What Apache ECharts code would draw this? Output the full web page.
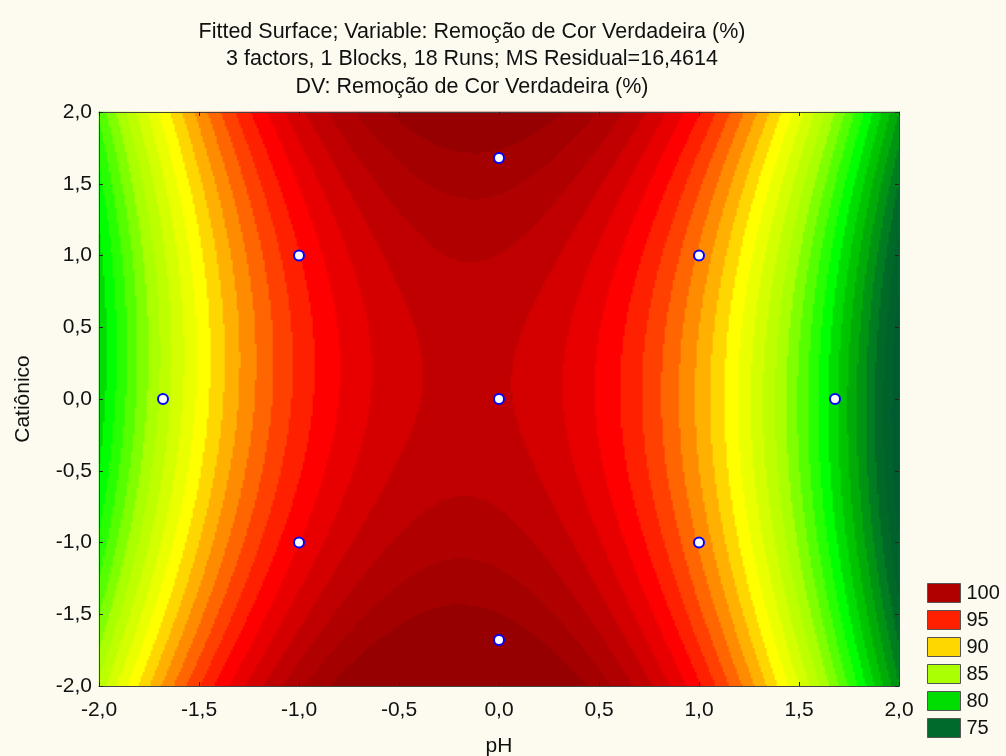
<!DOCTYPE html>
<html>
<head>
<meta charset="utf-8">
<script src="https://cdn.jsdelivr.net/npm/echarts@6/dist/echarts.min.js"></script>
<style>
html, body { margin: 0; padding: 0; background: #fdfaf0; }
#chart { width: 1006px; height: 756px; }
</style>
</head>
<body>
<div id="chart"></div>
<script>
// fitted quadratic surface: const, pH, Cat, pH^2, Cat^2, pH*Cat
const modelTerms = ['const', 'pH', 'Cat', 'pH2', 'Cat2', 'pHCat'];
const modelCoefs = [99.15, -1.79, -0.27, -5.6, 1.1, 0.25];

// experimental runs (coded levels)
const runsPH  = [-1, 1, -1, 1, -1.68, 1.68, 0, 0, 0];
const runsCat = [-1, -1, 1, 1, 0, 0, -1.68, 1.68, 0];

const axisMin = -2, axisMax = 2, tickStep = 0.5;

// contour bands, 1 unit each
const bandFrom = [73, 74, 75, 76, 77, 78, 79, 80, 81, 82, 83, 84, 85, 86, 87, 88, 89,
                  90, 91, 92, 93, 94, 95, 96, 97, 98, 99, 100, 101, 102];
const bandColors = ['#005c30', '#00622e', '#006a2a', '#007e20', '#009414', '#00ac08', '#00c400',
                    '#00dd00', '#00ff00', '#2aff00', '#55ff00', '#80ff00', '#aaff00', '#bfff00',
                    '#d4ff00', '#eaff00', '#ffff00', '#ffd700', '#ffb000', '#ff8c00', '#ff6600',
                    '#ff4000', '#ff2000', '#ff0000', '#e80000', '#d40000', '#c00000', '#b00000',
                    '#a40000', '#960000'];

const legendLabels = ['100', '95', '90', '85', '80', '75'];
const legendColors = ['#b00000', '#ff2000', '#ffd700', '#aaff00', '#00dd00', '#006a2a'];

const nx = 400, ny = 287;

function fitted(x, y) {
    const c = modelCoefs;
    return c[0] + c[1] * x + c[2] * y + c[3] * x * x + c[4] * y * y + c[5] * x * y;
}

let xCats = [], yCats = [], cells = [];
for (let i = 0; i < nx; i++) xCats.push(axisMin + (i + 0.5) * (axisMax - axisMin) / nx);
for (let j = 0; j < ny; j++) yCats.push(axisMin + (j + 0.5) * (axisMax - axisMin) / ny);
for (let i = 0; i < nx; i++) {
    for (let j = 0; j < ny; j++) {
        cells.push([i, j, fitted(xCats[i], yCats[j])]);
    }
}

let pieces = bandFrom.map((v, k) => {
    let p = { gte: v, color: bandColors[k] };
    if (k < bandFrom.length - 1) p.lt = bandFrom[k + 1];
    return p;
});
pieces.push({ lt: bandFrom[0], color: bandColors[0] });

const fmt = v => v.toFixed(1).replace('.', ',');
const font = 'Liberation Sans, Arial, sans-serif';
const gridBox = { left: 99, top: 112, width: 800, height: 574, outerBoundsMode: 'none', containLabel: false };

let myChart = echarts.init(document.getElementById('chart'));

let valueAxis = (pos, showLabel) => ({
    type: 'value', gridIndex: 1, position: pos,
    min: axisMin, max: axisMax, interval: tickStep, z: 5,
    axisLine: { show: true, onZero: false, lineStyle: { color: '#444', width: 1 } },
    axisTick: { show: true, inside: true, length: 4, lineStyle: { color: '#222' } },
    axisLabel: { show: showLabel, formatter: fmt, fontSize: 21, color: '#111', fontFamily: font, margin: 7 },
    splitLine: { show: false }
});

let xMain = valueAxis('bottom', true);
xMain.axisLabel.margin = 14;
xMain.name = 'pH';
xMain.nameLocation = 'middle';
xMain.nameGap = 50;
xMain.nameTextStyle = { fontSize: 21, color: '#111', fontFamily: font };
let yMain = valueAxis('left', true);
yMain.name = 'Catiônico';
yMain.nameLocation = 'middle';
yMain.nameGap = 65;
yMain.nameTextStyle = { fontSize: 21, color: '#111', fontFamily: font };

let series = [
    {
        type: 'heatmap', xAxisIndex: 0, yAxisIndex: 0,
        data: cells, progressive: 0, emphasis: { disabled: true }
    },
    {
        type: 'scatter', xAxisIndex: 1, yAxisIndex: 1, z: 6,
        data: runsPH.map((v, k) => [v, runsCat[k]]),
        symbol: 'circle', symbolSize: 10,
        itemStyle: { color: '#ffffff', borderColor: '#0000ff', borderWidth: 2, opacity: 1 }
    }
];
legendLabels.forEach((name, k) => {
    series.push({ type: 'scatter', name: name, xAxisIndex: 1, yAxisIndex: 1, data: [],
                  itemStyle: { color: legendColors[k], opacity: 1 } });
});

myChart.setOption({
    backgroundColor: '#fdfaf0',
    animation: false,
    title: {
        text: 'Fitted Surface; Variable: Remoção de Cor Verdadeira (%)\n3 factors, 1 Blocks, 18 Runs; MS Residual=16,4614\nDV: Remoção de Cor Verdadeira (%)',
        left: 467, top: 13, textAlign: 'center',
        textStyle: { fontSize: 21.5, fontWeight: 'normal', color: '#111', fontFamily: font, lineHeight: 27.5 }
    },
    legend: {
        orient: 'vertical', left: 922, top: 578,
        icon: 'rect', itemWidth: 33, itemHeight: 19, itemGap: 7,
        data: legendLabels,
        itemStyle: { borderColor: '#555', borderWidth: 1, opacity: 1 },
        textStyle: { fontSize: 20, color: '#111', fontFamily: font, padding: [0, 0, 0, 1] },
        selectedMode: false
    },
    visualMap: {
        type: 'piecewise', show: false, seriesIndex: 0, dimension: 2,
        pieces: pieces
    },
    grid: [Object.assign({}, gridBox), Object.assign({}, gridBox)],
    xAxis: [
        { type: 'category', gridIndex: 0, data: xCats, show: false },
        xMain,
        valueAxis('top', false)
    ],
    yAxis: [
        { type: 'category', gridIndex: 0, data: yCats, show: false },
        yMain,
        valueAxis('right', false)
    ],
    series: series
});
</script>
</body>
</html>
